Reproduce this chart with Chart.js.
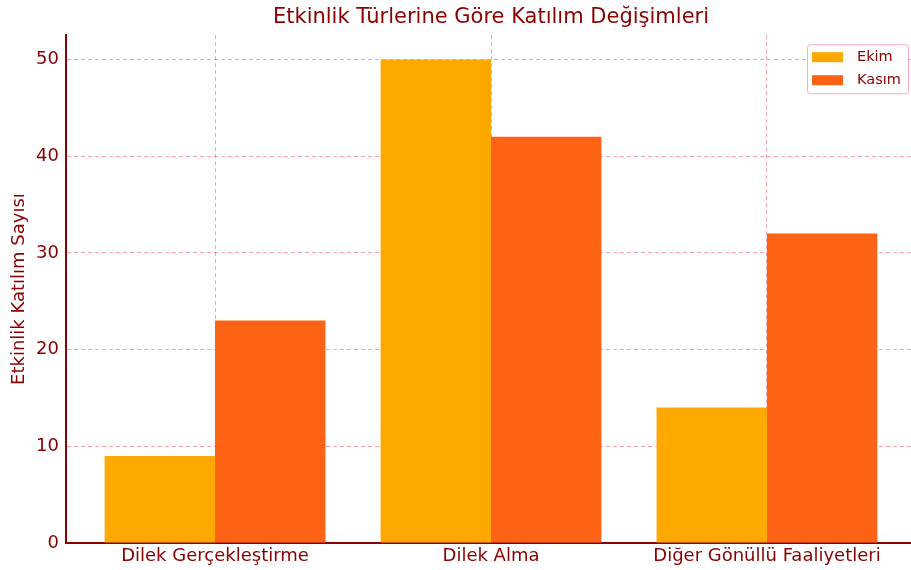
<!DOCTYPE html>
<html>
<head>
<meta charset="utf-8">
<script src="https://cdn.jsdelivr.net/npm/chart.js@4"></script>
<style>
  html, body { margin: 0; padding: 0; overflow: hidden; background: #fff; }
  #wrap { width: 911px; height: 570px; overflow: hidden; }
</style>
</head>
<body>
<div id="wrap"><canvas id="chart" width="920" height="570"></canvas></div>
<script>
const categories = ["Dilek Gerçekleştirme", "Dilek Alma", "Diğer Gönüllü Faaliyetleri"];
const ekim = [9, 50, 14];
const kasim = [23, 42, 32];
const seriesNames = ["Ekim", "Kasım"];
const seriesColors = ["#FFA800", "#FE6214"];
const yTicks = [0, 10, 20, 30, 40, 50];

const darkRed = "#8B0000";
const gridColor = "rgba(240, 90, 110, 0.55)";
const font = "'DejaVu Sans', sans-serif";

Chart.defaults.font.family = font;

// legend drawn inside the plot, upper right like the original
const innerLegend = {
  id: "innerLegend",
  afterDatasetsDraw(chart) {
    const ctx = chart.ctx;
    const area = chart.chartArea;
    const sets = chart.data.datasets;
    const w = 101, h = 49;
    const x = area.right - 8 - w;
    const y = area.top + 9;

    ctx.save();
    ctx.fillStyle = "rgba(255,255,255,0.85)";
    ctx.strokeStyle = "rgba(240, 120, 150, 0.6)";
    ctx.lineWidth = 1;
    ctx.beginPath();
    ctx.roundRect(x + 0.5, y + 0.5, w, h, 3);
    ctx.fill();
    ctx.stroke();

    ctx.font = "14.5px " + font;
    ctx.textBaseline = "middle";
    sets.forEach((ds, i) => {
      const cy = y + 13 + i * 23;
      ctx.fillStyle = ds.backgroundColor;
      ctx.fillRect(x + 5, cy - 5, 31, 10);
      ctx.fillStyle = darkRed;
      ctx.fillText(ds.label, x + 50, cy);
    });
    ctx.restore();
  }
};

new Chart(document.getElementById("chart"), {
  type: "bar",
  data: {
    datasets: [
      {
        label: seriesNames[0],
        data: categories.map((c, i) => ({ x: i, y: ekim[i] })),
        backgroundColor: seriesColors[0]
      },
      {
        label: seriesNames[1],
        data: categories.map((c, i) => ({ x: i, y: kasim[i] })),
        backgroundColor: seriesColors[1]
      }
    ]
  },
  options: {
    responsive: false,
    animation: false,
    categoryPercentage: 0.8,
    barPercentage: 1.0,
    layout: { padding: { left: 0, right: 4, top: 0, bottom: 0 } },
    plugins: {
      legend: { display: false },
      tooltip: { enabled: false },
      title: {
        display: true,
        fullSize: false,
        text: "Etkinlik Türlerine Göre Katılım Değişimleri",
        color: darkRed,
        font: { size: 21, weight: "normal" },
        padding: { top: 5, bottom: 5 }
      }
    },
    scales: {
      x: {
        type: "linear",
        offset: false,
        min: -0.54,
        max: 2.54,
        afterBuildTicks: scale => {
          scale.ticks = categories.map((c, i) => ({ value: i }));
        },
        afterFit: scale => { scale.height = 27; },
        ticks: {
          autoSkip: false,
          maxRotation: 0,
          padding: 3,
          color: darkRed,
          font: { size: 18 },
          callback: v => categories[v]
        },
        grid: { offset: false, color: gridColor, lineWidth: 1, drawTicks: false },
        border: { color: darkRed, width: 2, dash: [4, 3] }
      },
      y: {
        min: 0,
        max: 52.5,
        afterBuildTicks: scale => {
          scale.ticks = yTicks.map(v => ({ value: v }));
        },
        afterFit: scale => { scale.width = 66; },
        ticks: {
          padding: 7,
          color: darkRed,
          font: { size: 18 }
        },
        grid: { color: gridColor, lineWidth: 1, drawTicks: false },
        border: { color: darkRed, width: 2, dash: [4, 3] },
        title: {
          display: true,
          text: "Etkinlik Katılım Sayısı",
          color: darkRed,
          font: { size: 18 },
          padding: { top: 9, bottom: 0 }
        }
      }
    }
  },
  plugins: [innerLegend]
});
</script>
</body>
</html>
